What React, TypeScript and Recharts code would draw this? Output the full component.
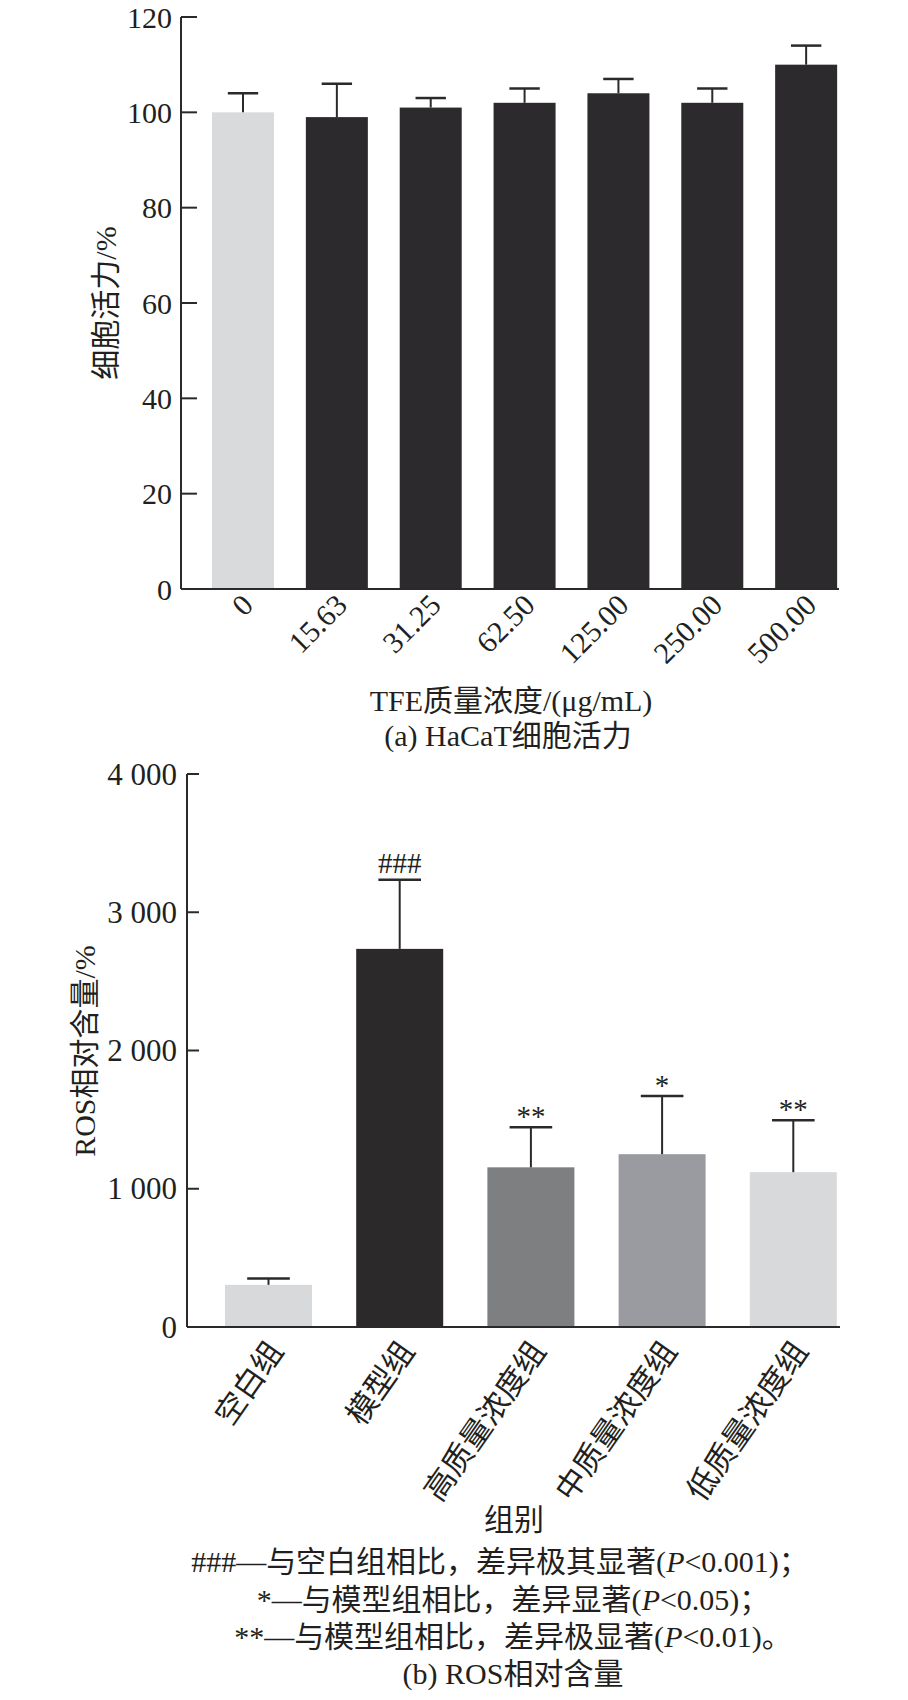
import React from "react";
import { BarChart, Bar, XAxis, YAxis } from "recharts";

// (a) HaCaT cell viability
const viabilityCats = ["0", "15.63", "31.25", "62.50", "125.00", "250.00", "500.00"];
const viabilityMeans = [100, 99, 101, 102, 104, 102, 110];
const viabilitySd = [4, 7, 2, 3, 3, 3, 4];
const viabilityColors = ["#d9dadc", "#2c2a2c", "#2c2a2c", "#2c2a2c", "#2c2a2c", "#2c2a2c", "#2c2a2c"];
const viabilityTicks = [0, 20, 40, 60, 80, 100, 120];

// (b) relative ROS content
const rosGroups = ["空白组", "模型组", "高质量浓度组", "中质量浓度组", "低质量浓度组"];
const rosMeans = [305, 2735, 1155, 1250, 1120];
const rosSd = [45, 500, 290, 420, 375];
const rosMarks = ["", "###", "**", "*", "**"];
const rosColors = ["#d8d9db", "#2b292a", "#7e7f81", "#999ba1", "#d8d9db"];
const rosTicks = [0, 1000, 2000, 3000, 4000];

const INK = "#231f20";
const LINE = "#2b2a2b";
const FONT = '"Liberation Serif", "Times New Roman", "Noto Sans CJK SC", serif';

const viabilityRows = viabilityCats.map((name, i) => ({
  name,
  mean: viabilityMeans[i],
  sd: viabilitySd[i],
  color: viabilityColors[i],
  mark: "",
}));

const rosRows = rosGroups.map((name, i) => ({
  name,
  mean: rosMeans[i],
  sd: rosSd[i],
  color: rosColors[i],
  mark: rosMarks[i],
}));

// bar with an upward-only error whisker and the significance mark above it
const ErrorBarShape = (props: any) => {
  const { x, y, width, height, payload } = props;
  if (!payload || !height) return null;
  const cx = x + width / 2;
  const pxPerUnit = height / payload.mean;
  const top = y - payload.sd * pxPerUnit;
  const cap = width * 0.49;
  const isHash = payload.mark.indexOf("#") >= 0;
  return (
    <g>
      <rect x={x} y={y} width={width} height={height} fill={payload.color} />
      <line x1={cx} x2={cx} y1={y} y2={top} stroke={LINE} strokeWidth={2} />
      <line x1={cx - cap / 2} x2={cx + cap / 2} y1={top} y2={top} stroke={LINE} strokeWidth={2.5} />
      {payload.mark && (
        <text
          x={cx}
          y={isHash ? top - 7 : top - 1}
          textAnchor="middle"
          fontFamily={FONT}
          fontSize={29}
          fill={INK}
        >
          {payload.mark}
        </text>
      )}
    </g>
  );
};

const makeYTick = (len: number, gap: number, size: number, fmt: (v: number) => string) => (p: any) => (
  <g>
    <line x1={p.x} x2={p.x + len} y1={p.y} y2={p.y} stroke={LINE} strokeWidth={2} />
    <text
      x={p.x - gap}
      y={p.y}
      textAnchor="end"
      dominantBaseline="central"
      fontFamily={FONT}
      fontSize={size}
      fill={INK}
    >
      {fmt(p.payload.value)}
    </text>
  </g>
);

const makeXTick = (dx: number, dy: number, angle: number, size: number) => (p: any) => {
  const tx = p.x + dx;
  const ty = p.y + dy;
  return (
    <g transform={`translate(${tx}, ${ty})`}>
      <text
        x={0}
        y={0}
        transform={`rotate(${angle})`}
        textAnchor="end"
        fontFamily={FONT}
        fontSize={size}
        fill={INK}
      >
        {p.payload.value}
      </text>
    </g>
  );
};

const thousands = (v: number) => {
  if (v < 1000) return String(v);
  const s = String(v);
  return s.slice(0, s.length - 3) + " " + s.slice(s.length - 3);
};

const Caption = ({ cx, cy, size = 30, rotate = false, children }: any) => (
  <div
    style={{
      position: "absolute",
      left: cx,
      top: cy,
      transform: `translate(-50%, -50%)${rotate ? " rotate(-90deg)" : ""}`,
      fontFamily: FONT,
      fontSize: size,
      lineHeight: 1,
      color: INK,
      whiteSpace: "nowrap",
    }}
  >
    {children}
  </div>
);

export default function App() {
  return (
    <div
      style={{
        position: "absolute",
        left: 0,
        top: 0,
        width: 908,
        height: 1700,
        background: "#fff",
        overflow: "hidden",
      }}
    >
      <div style={{ position: "absolute", left: 0, top: 0 }}>
        <BarChart
          width={908}
          height={700}
          data={viabilityRows}
          margin={{ top: 17, right: 69, bottom: 0, left: 0 }}
        >
          <XAxis
            dataKey="name"
            height={111}
            interval={0}
            tickLine={false}
            tickSize={0}
            tickMargin={0}
            padding={{ left: 15, right: -14 }}
            axisLine={{ stroke: LINE, strokeWidth: 2 }}
            tick={makeXTick(12, 18, -45, 30)}
          />
          <YAxis
            width={181}
            domain={[0, 120]}
            ticks={viabilityTicks}
            interval={0}
            tickLine={false}
            tickSize={0}
            tickMargin={0}
            axisLine={{ stroke: LINE, strokeWidth: 2 }}
            tick={makeYTick(16, 9, 30, (v) => String(v))}
          />
          <Bar dataKey="mean" barSize={62} shape={ErrorBarShape} isAnimationActive={false} />
        </BarChart>
      </div>

      <div style={{ position: "absolute", left: 0, top: 730 }}>
        <BarChart
          width={908}
          height={780}
          data={rosRows}
          margin={{ top: 44, right: 68, bottom: 0, left: 0 }}
        >
          <XAxis
            dataKey="name"
            height={183}
            interval={0}
            tickLine={false}
            tickSize={0}
            tickMargin={0}
            padding={{ left: 16, right: -19 }}
            axisLine={{ stroke: LINE, strokeWidth: 2 }}
            tick={makeXTick(16, 24, -55, 31)}
          />
          <YAxis
            width={187}
            domain={[0, 4000]}
            ticks={rosTicks}
            interval={0}
            tickLine={false}
            tickSize={0}
            tickMargin={0}
            axisLine={{ stroke: LINE, strokeWidth: 2 }}
            tick={makeYTick(12, 10, 31, thousands)}
          />
          <Bar dataKey="mean" barSize={87} shape={ErrorBarShape} isAnimationActive={false} />
        </BarChart>
      </div>

      <Caption cx={106} cy={303} rotate>
        细胞活力/%
      </Caption>
      <Caption cx={511} cy={701}>TFE质量浓度/(μg/mL)</Caption>
      <Caption cx={508} cy={736}>(a) HaCaT细胞活力</Caption>

      <Caption cx={85} cy={1051} rotate>
        ROS相对含量/%
      </Caption>
      <Caption cx={514} cy={1520}>组别</Caption>
      <Caption cx={500} cy={1562}>
        ###—与空白组相比，差异极其显著(<i>P</i>&lt;0.001)；
      </Caption>
      <Caption cx={513} cy={1600}>
        *—与模型组相比，差异显著(<i>P</i>&lt;0.05)；
      </Caption>
      <Caption cx={513} cy={1637}>
        **—与模型组相比，差异极显著(<i>P</i>&lt;0.01)。
      </Caption>
      <Caption cx={513} cy={1674}>(b) ROS相对含量</Caption>
    </div>
  );
}
